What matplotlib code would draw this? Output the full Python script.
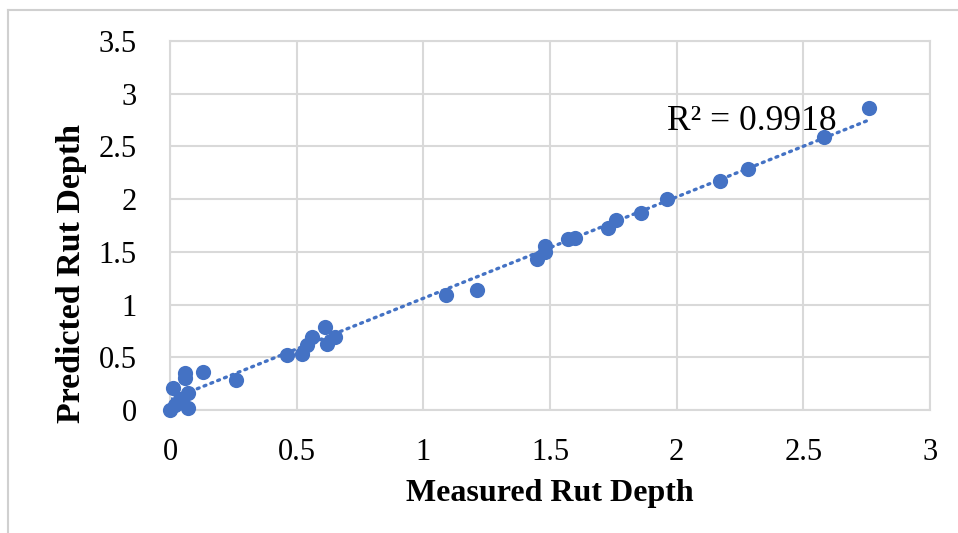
import numpy as np
import matplotlib.pyplot as plt
from matplotlib.lines import Line2D

# measured vs predicted rut depth
measured = [0.00, 0.02, 0.04, 0.01, 0.07, 0.07, 0.06, 0.06, 0.13, 0.26,
            0.46, 0.52, 0.54, 0.56, 0.61, 0.62, 0.65,
            1.09, 1.21, 1.45, 1.48, 1.48, 1.57, 1.60, 1.73, 1.76, 1.86,
            1.96, 2.17, 2.28, 2.58, 2.76]
predicted = [0.00, 0.05, 0.10, 0.21, 0.16, 0.02, 0.30, 0.35, 0.36, 0.28,
             0.52, 0.53, 0.62, 0.69, 0.79, 0.63, 0.69,
             1.09, 1.14, 1.43, 1.50, 1.56, 1.62, 1.63, 1.73, 1.80, 1.87,
             2.00, 2.17, 2.29, 2.59, 2.86]
r2_text = 'R² = 0.9918'

blue = '#4472C4'
grid = '#D9D9D9'
serif = ['Liberation Serif', 'DejaVu Serif']

fig = plt.figure(figsize=(9.58, 5.33), dpi=100)
ax = fig.add_axes([170/958, 1-410/533, 760/958, 369/533])

x = np.array(measured)
y = np.array(predicted)
ax.scatter(x, y, s=120, color=blue, zorder=3, linewidths=0, clip_on=False)

# linear trendline over the data range
k, b = np.polyfit(x, y, 1)
xt = np.array([x.min(), x.max()])
ax.plot(xt, k*xt + b, color=blue, lw=2.4, ls=(0, (0.6, 1.6)),
        dash_capstyle='round', zorder=2)
ax.text(1.96, 2.74, r2_text, fontsize=25.5, family=serif, va='center')

ax.set_xlim(0, 3)
ax.set_ylim(0, 3.5)
ax.set_xticks(np.arange(0, 3.01, 0.5))
ax.set_yticks(np.arange(0, 3.51, 0.5))
ax.set_xticklabels(['0', '0.5', '1', '1.5', '2', '2.5', '3'])
ax.set_yticklabels(['0', '0.5', '1', '1.5', '2', '2.5', '3', '3.5'])
ax.grid(True, color=grid, lw=1.5, zorder=0)
ax.set_axisbelow(True)
for s in ax.spines.values():
    s.set_color(grid)
    s.set_linewidth(1.5)
ax.tick_params(length=0, pad=24, labelsize=22)
ax.tick_params(axis='x', pad=20)
for lab in ax.get_xticklabels() + ax.get_yticklabels():
    lab.set_family(serif)

ax.set_xlabel('Measured Rut Depth', fontsize=23, fontweight='bold',
              family=serif, labelpad=9)
ax.set_ylabel('Predicted Rut Depth', fontsize=24.5, fontweight='bold',
              family=serif)
ax.yaxis.set_label_coords(-0.109, 0.37)

# chart frame
fig.add_artist(Line2D([8/958, 1], [1-10/533, 1-10/533], color='#D0D0D0', lw=1.5))
fig.add_artist(Line2D([8/958, 8/958], [0, 1-10/533], color='#D0D0D0', lw=1.5))

fig.savefig('out.png', dpi=100)
